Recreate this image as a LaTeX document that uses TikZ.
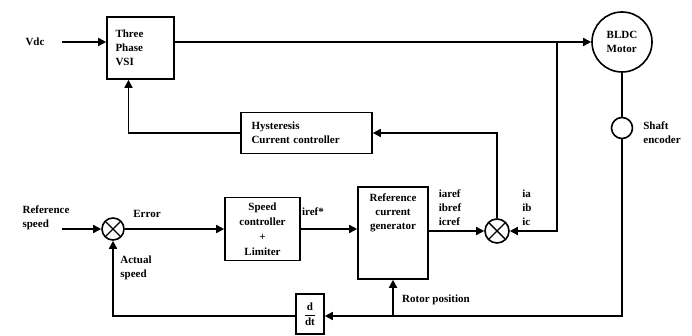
\documentclass[tikz,border=0pt]{standalone}
\usepackage{fontspec}
\setmainfont{Liberation Serif}
\usetikzlibrary{arrows.meta,positioning}
\begin{document}
\begin{tikzpicture}[x=1pt,y=-1pt,
  every node/.style={font=\fontsize{11}{14}\selectfont\bfseries, inner sep=0pt},
  wire/.style={line width=1.6pt},
  arr/.style={wire,-{Triangle[length=8pt,width=8pt]}},
  blk/.style={draw,line width=1.6pt,rectangle},
  sumj/.style={draw,line width=1.6pt,circle,minimum size=22pt,
    path picture={\draw[line width=1.4pt]
      (path picture bounding box.north west) -- (path picture bounding box.south east)
      (path picture bounding box.north east) -- (path picture bounding box.south west);}},
  lbl/.style={align=left}]
\useasboundingbox (0,0) rectangle (692,336);

% blocks
\node[blk, minimum width=67pt, minimum height=62pt, text width=50pt, align=left] (vsi) at (140.5,48) {Three\\Phase\\VSI};
\node[draw,circle,line width=1.6pt,minimum size=60pt,align=left] (motor) at (622,42) {BLDC\\Motor};
\node[draw,circle,line width=1.6pt,minimum size=21pt] (enc) at (622,128) {};
\node[lbl] (enclbl) at (662,133) {Shaft\\encoder};
\node[blk, minimum width=131pt, minimum height=41pt, text width=110pt, align=left] (hyst) at (306.5,133) {Hysteresis\\Current controller};
\node[sumj] (sum1) at (113,229) {};
\node[blk, minimum width=75pt, minimum height=63pt, align=center, font=\fontsize{11}{15}\selectfont\bfseries] (spd) at (262.5,229) {Speed\\controller\\+\\Limiter};
\node[blk, minimum width=70pt, minimum height=92pt,
  label={[name=rcgtext, align=center, anchor=north, yshift=-7pt]north:Reference\\current\\generator}] (rcg) at (393,233) {};
\node[sumj, minimum size=24pt] (sum2) at (497,231) {};
\node[blk, minimum width=28pt, minimum height=40pt] (ddt) at (310,314) {$\displaystyle\frac{\mathbf{d}}{\mathbf{dt}}$};

% labels
\node[lbl] (vdc) at (35,42) {Vdc};
\node[lbl] (refspd) at (46,218) {Reference\\speed};
\node[lbl] (err) at (147,214) {Error};
\node[lbl] (actspd) at (136,268) {Actual\\speed};
\node[lbl] (irefs) at (313,212) {iref*};
\node[lbl] (iabc) at (450,208) {iaref\\ibref\\icref};
\node[lbl] (iabcm) at (527,208) {ia\\ib\\ic};
\node[lbl, anchor=west] (rotpos) at (402,300) {Rotor position};

% coordinates
\coordinate (vdcin) at (62,42);
\coordinate (refin) at (62,229);
\coordinate (tap) at (557,42);
\coordinate (corner) at (622,316);
\coordinate (vsiin) at ([xshift=-12pt]vsi.south);

% connectors
\draw[arr] (vdcin) -- (vdcin -| vsi.west);
\draw[arr] (vdcin -| vsi.east) -- (motor.west);
\draw[wire] (motor.south) -- (enc.north);
\draw[arr] (enc.south) -- (corner) -- (corner -| ddt.east);
\draw[arr] (rcg.south |- corner) -- (rcg.south);
\draw[arr] (ddt.west |- corner) -- (sum1 |- corner) -- (sum1.south);
\draw[arr] (refin) -- (sum1.west);
\draw[arr] (sum1.east) -- (sum1 -| spd.west);
\draw[arr] (spd.east) -- (spd.east -| rcg.west);
\draw[arr] (sum2 -| rcg.east) -- (sum2.west);
\draw[arr] (tap) -- (tap |- sum2) -- (sum2.east);
\draw[arr] (sum2.north) -- (sum2 |- hyst.east) -- (hyst.east);
\draw[arr] (hyst.west) -- (vsiin |- hyst.west) -- (vsiin);
\end{tikzpicture}
\end{document}
